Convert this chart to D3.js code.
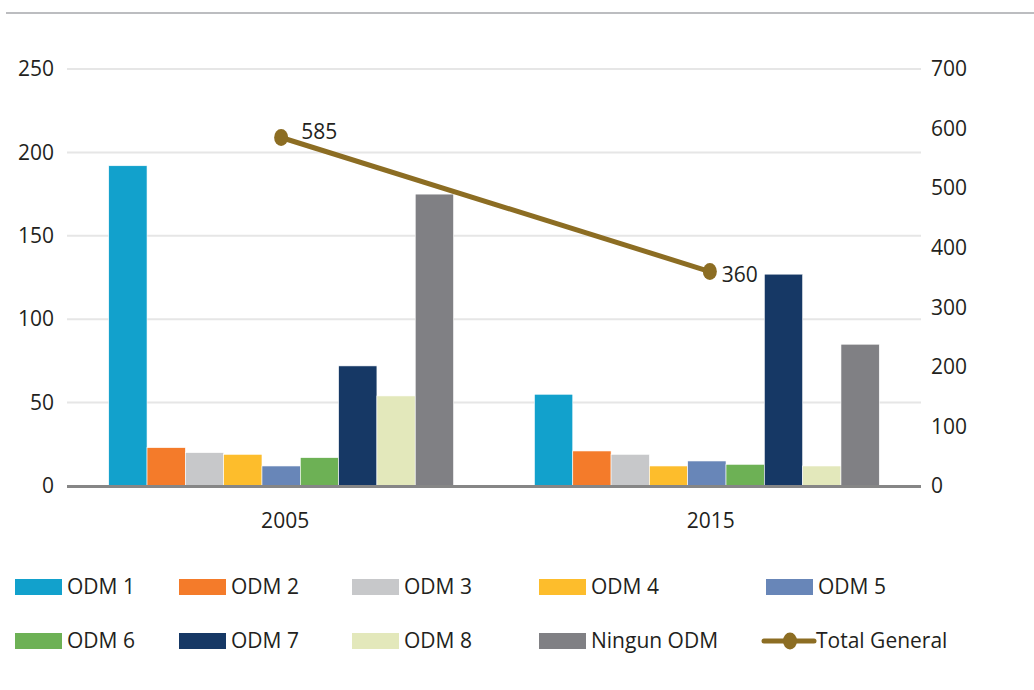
<!DOCTYPE html>
<html>
<head>
<meta charset="utf-8">
<script src="https://cdn.jsdelivr.net/npm/d3@7"></script>
<style>
  body { margin: 0; background: #fff; }
  svg text { font-family: "Open Sans", "Lato", sans-serif; fill: #231f20; font-size: 21px; }
</style>
</head>
<body>
<svg id="chart" width="1034" height="690"></svg>
<script>
// Data
var years = ["2005", "2015"];
var seriesNames = ["ODM 1", "ODM 2", "ODM 3", "ODM 4", "ODM 5", "ODM 6", "ODM 7", "ODM 8", "Ningun ODM"];
var values2005 = [192, 23, 20, 19, 12, 17, 72, 54, 175];
var values2015 = [55, 21, 19, 12, 15, 13, 127, 12, 85];
var totalGeneral = [585, 360];
var leftTicks = [0, 50, 100, 150, 200, 250];
var rightTicks = [0, 100, 200, 300, 400, 500, 600, 700];
var colors = ["#12a1cc", "#f47b2a", "#c7c8ca", "#fdbd2c", "#6886b8", "#6db155", "#163865", "#e3e8bb", "#808084"];
var lineColor = "#8c6d23";

var svg = d3.select("#chart");

// Chart area
var plotLeft = 67, plotRight = 921, plotTop = 69, plotBottom = 486;

var x0 = d3.scaleBand().domain(years).range([plotLeft, plotRight])
    .paddingInner(0.19).paddingOuter(0.098);
var x1 = d3.scaleBand().domain(seriesNames).range([0, x0.bandwidth()]);
var yL = d3.scaleLinear().domain([0, 250]).range([plotBottom, plotTop]);
var yR = d3.scaleLinear().domain([0, 700]).range([plotBottom, plotTop]);

// top rule
svg.append("line")
    .attr("x1", 6).attr("x2", 1034).attr("y1", 13).attr("y2", 13)
    .attr("stroke", "#bcbdc0").attr("stroke-width", 2);

// gridlines
svg.append("g").selectAll("line")
    .data(leftTicks.slice(1))
  .enter().append("line")
    .attr("x1", plotLeft).attr("x2", plotRight)
    .attr("y1", function(d) { return yL(d); })
    .attr("y2", function(d) { return yL(d); })
    .attr("stroke", "#e6e6e6").attr("stroke-width", 2);

// left axis labels
var yAxisL = d3.axisLeft(yL).tickValues(leftTicks).tickSize(0).tickPadding(0);
var gL = svg.append("g").attr("transform", "translate(54,0)").call(yAxisL);
gL.select(".domain").remove();
gL.attr("font-size", null).attr("font-family", null);
gL.selectAll("text").attr("fill", "#231f20");

// right axis labels
var yAxisR = d3.axisRight(yR).tickValues(rightTicks).tickSize(0).tickPadding(0);
var gR = svg.append("g").attr("transform", "translate(931,0)").call(yAxisR);
gR.select(".domain").remove();
gR.attr("font-size", null).attr("font-family", null);
gR.selectAll("text").attr("fill", "#231f20");

// bars
var rows = years.map(function(y, i) {
    var vals = i === 0 ? values2005 : values2015;
    return { year: y, values: vals.map(function(v, j) { return { name: seriesNames[j], value: v, color: colors[j] }; }) };
});

var groups = svg.append("g").selectAll("g")
    .data(rows)
  .enter().append("g")
    .attr("transform", function(d) { return "translate(" + x0(d.year) + ",0)"; });

groups.selectAll("rect")
    .data(function(d) { return d.values; })
  .enter().append("rect")
    .attr("x", function(d) { return x1(d.name); })
    .attr("width", x1.bandwidth())
    .attr("y", function(d) { return yL(d.value); })
    .attr("height", function(d) { return plotBottom - yL(d.value); })
    .attr("fill", function(d) { return d.color; })
    .attr("stroke", "#fff").attr("stroke-width", 0.6);

// baseline
svg.append("line")
    .attr("x1", plotLeft).attr("x2", plotRight).attr("y1", plotBottom + 0.5).attr("y2", plotBottom + 0.5)
    .attr("stroke", "#868686").attr("stroke-width", 3);

// x axis labels
var xAxis = d3.axisBottom(x0).tickSize(0).tickPadding(0);
var gX = svg.append("g").attr("transform", "translate(4," + (plotBottom + 27) + ")").call(xAxis);
gX.select(".domain").remove();
gX.attr("font-size", null).attr("font-family", null);
gX.selectAll("text").attr("fill", "#231f20");

// total line (second point sits a little right of its band centre in the original)
var cx = function(d, i) { return x0(years[i]) + x0.bandwidth() / 2 + (i === 0 ? 0 : 3); };
var line = d3.line().x(function(d, i) { return cx(d, i); }).y(function(d) { return yR(d); });
svg.append("path")
    .datum(totalGeneral)
    .attr("d", line)
    .attr("fill", "none").attr("stroke", lineColor).attr("stroke-width", 5);

svg.append("g").selectAll("ellipse")
    .data(totalGeneral)
  .enter().append("ellipse")
    .attr("cx", cx).attr("cy", function(d) { return yR(d); })
    .attr("rx", 7).attr("ry", 8.5)
    .attr("fill", lineColor);

// value labels: first one up-right of its marker, second one to the right
var labelDx = [20, 12], labelDy = [-6, 3];
svg.append("g").selectAll("text")
    .data(totalGeneral)
  .enter().append("text")
    .attr("x", function(d, i) { return cx(d, i) + labelDx[i]; })
    .attr("y", function(d, i) { return yR(d) + labelDy[i]; })
    .attr("dy", "0.35em")
    .text(function(d) { return d; });

// legend
var legendItems = seriesNames.concat(["Total General"]);
var colX = [15, 179, 352, 539, 766];
var rowY = [587, 641];
var legend = svg.append("g").selectAll("g")
    .data(legendItems)
  .enter().append("g")
    .attr("transform", function(d, i) {
        var r = Math.floor(i / 5), c = i % 5;
        return "translate(" + colX[c] + "," + rowY[r] + ")";
    });

legend.each(function(d, i) {
    var g = d3.select(this);
    if (i < seriesNames.length) {
        g.append("rect").attr("x", 0).attr("y", -8).attr("width", 47).attr("height", 16)
            .attr("fill", colors[i]);
        g.append("text").attr("x", 52).attr("y", 0).attr("dy", "0.35em").text(d);
    } else {
        g.append("line").attr("x1", -2).attr("x2", 48).attr("y1", 0).attr("y2", 0)
            .attr("stroke", lineColor).attr("stroke-width", 5).attr("stroke-linecap", "round");
        g.append("ellipse").attr("cx", 24).attr("cy", 0).attr("rx", 7).attr("ry", 8.5)
            .attr("fill", lineColor);
        g.append("text").attr("x", 50).attr("y", 0).attr("dy", "0.35em").text(d);
    }
});
</script>
</body>
</html>
